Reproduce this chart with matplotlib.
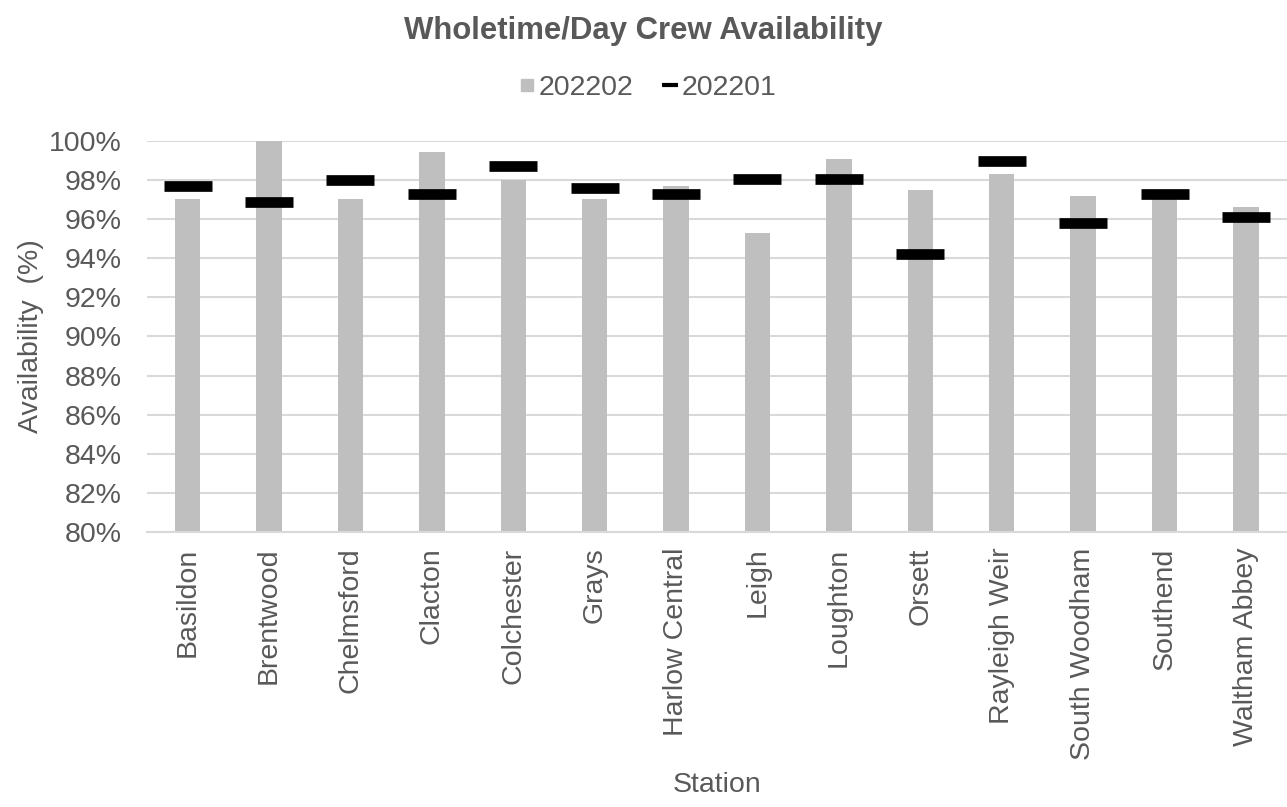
import matplotlib.pyplot as plt
from matplotlib.lines import Line2D
from matplotlib.ticker import PercentFormatter

plt.rcParams['font.family'] = ['Liberation Sans', 'DejaVu Sans']

stations = ["Basildon", "Brentwood", "Chelmsford", "Clacton", "Colchester", "Grays",
            "Harlow Central", "Leigh", "Loughton", "Orsett", "Rayleigh Weir",
            "South Woodham", "Southend", "Waltham Abbey"]
avail_202202 = [97.03, 99.98, 97.03, 99.41, 98.0, 97.01, 97.71, 95.3, 99.05, 97.49,
                98.3, 97.17, 97.2, 96.63]
avail_202201 = [97.7, 96.85, 97.98, 97.3, 98.71, 97.59, 97.3, 98.05, 98.05, 94.22,
                98.95, 95.78, 97.29, 96.12]

text_col = '#595959'
grid_col = '#D9D9D9'
bar_col = '#BFBFBF'

fig = plt.figure(figsize=(12.87, 8.07), dpi=100)
ax = fig.add_axes([0.1142, 0.3404, 0.8855, 0.4853])

x = range(len(stations))
ax.bar(x, avail_202202, width=0.31, color=bar_col, zorder=2)
ax.plot(x, avail_202201, linestyle='none', marker='_', markersize=34,
        markeredgewidth=7.7, color='black', zorder=3)

ax.set_ylim(80, 100)
ax.set_xlim(-0.5, len(stations) - 0.5)
ax.set_yticks(range(80, 101, 2))
ax.yaxis.set_major_formatter(PercentFormatter(decimals=0))
ax.grid(axis='y', color=grid_col, linewidth=1.5, zorder=0)
ax.set_xticks(list(x))
ax.set_xticklabels(stations, rotation=90)
ax.tick_params(length=0, labelsize=20.5, colors=text_col)
ax.tick_params(axis='y', pad=18)
ax.tick_params(axis='x', pad=11)
for side in ['top', 'right', 'left']:
    ax.spines[side].set_visible(False)
ax.spines['bottom'].set_color(grid_col)
ax.spines['bottom'].set_linewidth(1.5)

ax.set_ylabel('Availability  (%)', fontsize=20.5, color=text_col, labelpad=4)
fig.text(0.1142 + 0.8855 / 2, 0.018, 'Station', fontsize=20.5, color=text_col, ha='center')
fig.text(0.5, 0.962, 'Wholetime/Day Crew Availability', fontsize=22.4, fontweight='bold',
         color=text_col, ha='center', va='center')

handles = [Line2D([], [], linestyle='none', marker='s', markersize=9, color=bar_col),
           Line2D([], [], linestyle='none', marker='_', markersize=11,
                  markeredgewidth=3, color='black')]
leg = fig.legend(handles, ['202202', '202201'], loc='center', bbox_to_anchor=(0.503, 0.891),
                 ncol=2, frameon=False, fontsize=20.5, handlelength=0.6,
                 handletextpad=0.1, columnspacing=1.0)
for t in leg.get_texts():
    t.set_color(text_col)

fig.savefig('out.png', dpi=100)
